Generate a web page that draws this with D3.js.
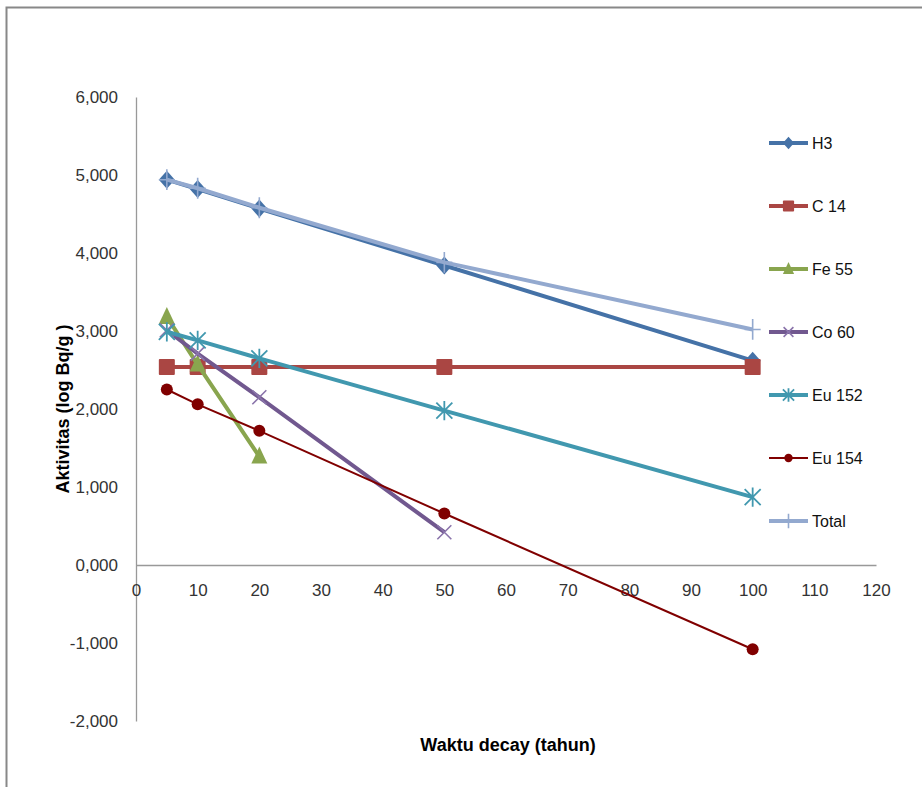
<!DOCTYPE html>
<html><head><meta charset="utf-8">
<script src="https://cdn.jsdelivr.net/npm/d3@7"></script>
<style>body{margin:0;background:#fff}svg{display:block}text{font-family:"Liberation Sans",Arial,sans-serif}</style>
</head><body><svg id="c" width="922" height="787"></svg>
<script>
const years = [5, 10, 20, 50, 100];
const seriesNames = ["H3", "C 14", "Fe 55", "Co 60", "Eu 152", "Eu 154", "Total"];
const h3 = [4.94, 4.82, 4.57, 3.84, 2.62];
const c14 = [2.54, 2.54, 2.54, 2.54, 2.54];
const fe55 = [3.18, 2.57, 1.39];
const co60 = [3.01, 2.71, 2.15, 0.42];
const eu152 = [2.99, 2.88, 2.65, 1.98, 0.87];
const eu154 = [2.25, 2.06, 1.72, 0.66, -1.08];
const total = [4.94, 4.83, 4.58, 3.88, 3.02];
const yTicks = [-2, -1, 0, 1, 2, 3, 4, 5, 6];
const xTicks = [0, 10, 20, 30, 40, 50, 60, 70, 80, 90, 100, 110, 120];

const colors = ["#4572A7", "#AA4643", "#89A54E", "#71588F", "#4198AF", "#800000", "#93A9CF"];
const symbols = ["diamond", "square", "triangle", "x", "star", "circle", "plus"];
const widths = [4, 4, 4, 4, 4, 2, 4];
const values = [h3, c14, fe55, co60, eu152, eu154, total];
const series = seriesNames.map((n, i) => ({name: n, color: colors[i], sym: symbols[i], w: widths[i],
  pts: values[i].map((v, j) => ({x: years[j], y: v}))}));

const svg = d3.select("#c");
svg.append("path").attr("d", "M6.5,787 V7.5 H922").attr("fill", "none").attr("stroke", "#888").attr("stroke-width", 2);

const x = d3.scaleLinear().domain([0, 120]).range([136, 876]);
const y = d3.scaleLinear().domain([-2, 6]).range([721, 97]);
const fmt = d => (d < 0 ? "-" : "") + d3.format(".3f")(Math.abs(d)).replace(".", ",");

const ya = svg.append("g").attr("transform", "translate(136,0)")
  .call(d3.axisLeft(y).tickValues(yTicks).tickSize(0).tickPadding(18).tickFormat(fmt));
ya.select(".domain").attr("stroke", "#999").attr("stroke-width", 1.3);
ya.selectAll("text").attr("font-size", 17).attr("fill", "#333").attr("font-family", "Liberation Sans, Arial, sans-serif");

const xa = svg.append("g").attr("transform", `translate(0,${y(0)})`)
  .call(d3.axisBottom(x).tickValues(xTicks).tickSize(0).tickPadding(19).tickFormat(d3.format("d")));
xa.select(".domain").attr("stroke", "#999").attr("stroke-width", 1.3);
xa.selectAll("text").attr("font-size", 17).attr("fill", "#333").attr("font-family", "Liberation Sans, Arial, sans-serif");

svg.append("text").attr("x", 508).attr("y", 751).attr("text-anchor", "middle")
  .attr("font-size", 18).attr("font-weight", "bold").text("Waktu decay (tahun)");
svg.append("text").attr("transform", "translate(69,409) rotate(-90)").attr("text-anchor", "middle")
  .attr("font-size", 18).attr("font-weight", "bold").text("Aktivitas (log Bq/g )");

const line = d3.line().x(d => x(d.x)).y(d => y(d.y));

function marker(g, sym, color, cx, cy, legend) {
  const s = legend ? 0.7 : 1;
  if (sym === "diamond") {
    const r = 8 * s, rv = 9 * s;
    g.append("path").attr("d", `M${cx},${cy - rv}L${cx + r},${cy}L${cx},${cy + rv}L${cx - r},${cy}Z`).attr("fill", color);
  } else if (sym === "square") {
    g.append("rect").attr("x", cx - 8 * s).attr("y", cy - 8 * s).attr("width", 16 * s).attr("height", 16 * s).attr("rx", 1).attr("fill", color);
  } else if (sym === "triangle") {
    g.append("path").attr("d", `M${cx},${cy - 10 * s}L${cx + 8 * s},${cy + 7 * s}L${cx - 8 * s},${cy + 7 * s}Z`).attr("fill", color);
  } else if (sym === "x") {
    const r = 7 * s;
    g.append("path").attr("d", `M${cx - r},${cy - r}L${cx + r},${cy + r}M${cx - r},${cy + r}L${cx + r},${cy - r}`).attr("stroke", "#8a74ab").attr("stroke-width", 1.6);
  } else if (sym === "star") {
    const r = 8 * s;
    g.append("path").attr("d", `M${cx - r},${cy - r}L${cx + r},${cy + r}M${cx - r},${cy + r}L${cx + r},${cy - r}M${cx},${cy - r * 1.2}L${cx},${cy + r * 1.2}`).attr("stroke", color).attr("stroke-width", 1.8);
  } else if (sym === "circle") {
    g.append("circle").attr("cx", cx).attr("cy", cy).attr("r", 6 * s).attr("fill", color);
  } else if (sym === "plus") {
    const r = 8 * s;
    g.append("path").attr("d", `M${cx - r},${cy}L${cx + r},${cy}M${cx},${cy - r * 1.3}L${cx},${cy + r * 1.3}`).attr("stroke", color).attr("stroke-width", 1.6);
  }
}

const plot = svg.append("g");
series.forEach(s => {
  plot.append("path").datum(s.pts).attr("d", line).attr("fill", "none")
    .attr("stroke", s.color).attr("stroke-width", s.w).attr("stroke-linejoin", "round");
  s.pts.forEach(p => marker(plot, s.sym, s.color, x(p.x), y(p.y), false));
});

const lg = svg.append("g");
series.forEach((s, i) => {
  const ly = 143 + i * 63;
  lg.append("line").attr("x1", 769).attr("x2", 808).attr("y1", ly).attr("y2", ly)
    .attr("stroke", s.color).attr("stroke-width", s.w);
  marker(lg, s.sym, s.color, 788.5, ly, true);
  lg.append("text").attr("x", 812).attr("y", ly + 6).attr("font-size", 16).attr("fill", "#111").text(s.name);
});
</script></body></html>
